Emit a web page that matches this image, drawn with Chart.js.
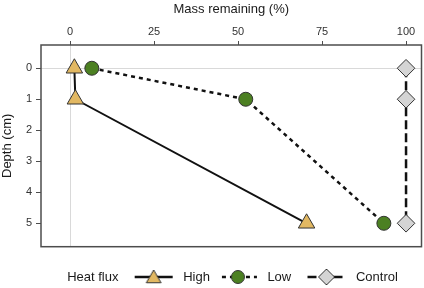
<!DOCTYPE html>
<html>
<head>
<meta charset="utf-8">
<script src="https://cdn.jsdelivr.net/npm/chart.js@4.4.0/dist/chart.umd.min.js"></script>
<style>
  body { margin: 0; background: #fff; }
  #wrap { width: 424px; height: 288px; }
</style>
</head>
<body>
<div id="wrap"><canvas id="massChart" width="424" height="288"></canvas></div>
<script>
// data
const depthCm = [0, 1, 5];
const massHigh = [1.3, 1.6, 70.4];
const massLow = [6.5, 52.3, 93.4];
const massControl = [100, 100, 100];
const massTicks = [0, 25, 50, 75, 100];
const depthTicks = [0, 1, 2, 3, 4, 5];
const seriesNames = ["High", "Low", "Control"];
const legendTitle = "Heat flux";

const FONT = "'Liberation Sans', Arial, Helvetica, sans-serif";
const TEXT = "#1a1a1a";

function points(mass) {
    return depthCm.map((d, i) => ({ x: mass[i], y: d }));
}

/* legend glyphs: line + marker on a small canvas */
function glyph(style, fill, radius, dash, dy) {
    const c = document.createElement("canvas");
    c.width = 42;
    c.height = 20;
    const g = c.getContext("2d");
    if (dash) {
        g.strokeStyle = "#111";
        g.lineWidth = 2.5;
        g.setLineDash(dash.pattern);
        g.lineDashOffset = dash.offset || 0;
        g.beginPath();
        g.moveTo(2, 10);
        g.lineTo(40, 10);
        g.stroke();
        g.setLineDash([]);
    }
    if (style) {
        g.fillStyle = fill;
        g.strokeStyle = "#333";
        g.lineWidth = 1;
        Chart.helpers.drawPoint(g, { pointStyle: style, radius, rotation: 0, borderWidth: 1 }, 21, 10 + (dy || 0));
    }
    return c;
}

const blankGlyph = glyph(null);

const series = [
    { name: seriesNames[0], mass: massHigh, style: "triangle", fill: "#e2b862", radius: 9.5, dash: [], gap: "",
      legend: glyph("triangle", "#e2b862", 8.5, { pattern: [] }, 1.5) },
    { name: seriesNames[1], mass: massLow, style: "circle", fill: "#4c8022", radius: 7, dash: [4, 4], gap: "  ",
      legend: glyph("circle", "#4c8022", 6.5, { pattern: [4, 4], offset: -3 }) },
    { name: seriesNames[2], mass: massControl, style: "rectRot", fill: "#d4d4d4", radius: 8.8, dash: [9, 4], gap: "",
      legend: glyph("rectRot", "#d4d4d4", 8, { pattern: [9, 4] }) }
];

/* frame round the plot area, legend nudged left like the original */
const framePlugin = {
    id: "frame",
    afterLayout(chart) {
        chart.legend.left -= 4.5;
        chart.legend.right -= 4.5;
    },
    afterDraw(chart) {
        const a = chart.chartArea;
        const ctx = chart.ctx;
        ctx.save();
        ctx.strokeStyle = "#4d4d4d";
        ctx.lineWidth = 1.5;
        ctx.strokeRect(a.left, a.top, a.right - a.left, a.bottom - a.top);
        ctx.restore();
    }
};

function noPad(scale) {
    scale.paddingLeft = 0;
    scale.paddingRight = 0;
    scale.paddingTop = 0;
    scale.paddingBottom = 0;
}

const ctx = document.getElementById("massChart").getContext("2d");

new Chart(ctx, {
    type: "line",
    data: {
        datasets: series.map(s => ({
            label: s.name,
            data: points(s.mass),
            borderColor: "#111",
            borderWidth: s.dash.length ? 2.5 : 2,
            borderDash: s.dash,
            pointStyle: s.style,
            pointRadius: s.radius,
            pointHoverRadius: s.radius,
            pointBackgroundColor: s.fill,
            pointBorderColor: "#333",
            pointBorderWidth: 1,
            tension: 0,
            fill: false,
            clip: false
        }))
    },
    options: {
        responsive: false,
        animation: false,
        layout: { autoPadding: false, padding: { left: 0, right: 2.5, top: 0, bottom: -5.5 } },
        plugins: {
            tooltip: { enabled: false },
            legend: {
                position: "bottom",
                labels: {
                    usePointStyle: true,
                    pointStyleWidth: 46,
                    padding: 5,
                    color: TEXT,
                    font: { family: FONT, size: 13 },
                    generateLabels: chart => [
                        { text: legendTitle + "  ", pointStyle: blankGlyph, fontColor: TEXT, hidden: false, lineWidth: 0 },
                        ...series.map((s, i) => ({
                            text: s.name + s.gap,
                            pointStyle: s.legend,
                            fontColor: TEXT,
                            hidden: false,
                            lineWidth: 0,
                            datasetIndex: i
                        }))
                    ]
                }
            }
        },
        scales: {
            x: {
                type: "linear",
                position: "top",
                min: -8.63,
                max: 104.6,
                afterBuildTicks: scale => { scale.ticks = massTicks.map(v => ({ value: v })); },
                afterFit: scale => { scale.height = 45; noPad(scale); },
                title: {
                    display: true,
                    text: "Mass remaining (%)",
                    color: TEXT,
                    font: { family: FONT, size: 13 },
                    padding: { top: 1.5, bottom: 0 }
                },
                ticks: {
                    color: "#333",
                    font: { family: FONT, size: 11 },
                    padding: 2,
                    maxRotation: 0
                },
                grid: {
                    color: c => (c.tick && c.tick.value === 0 ? "#d9d9d9" : "rgba(0,0,0,0)"),
                    lineWidth: 1,
                    tickColor: "#4d4d4d",
                    tickLength: 4
                },
                border: { display: false }
            },
            x2: {
                type: "linear",
                position: "bottom",
                display: true,
                afterFit: scale => { scale.height = 18.8; noPad(scale); },
                ticks: { display: false },
                grid: { display: false, drawTicks: false },
                border: { display: false }
            },
            y: {
                type: "linear",
                reverse: true,
                min: -0.75,
                max: 5.755,
                afterBuildTicks: scale => { scale.ticks = depthTicks.map(v => ({ value: v })); },
                afterFit: scale => { scale.width = 41; noPad(scale); },
                title: {
                    display: true,
                    text: "Depth (cm)",
                    color: TEXT,
                    font: { family: FONT, size: 13 },
                    padding: { top: 0, bottom: 0 }
                },
                ticks: {
                    color: "#333",
                    font: { family: FONT, size: 11 },
                    padding: 4
                },
                grid: {
                    color: c => (c.tick && c.tick.value === 0 ? "#d9d9d9" : "rgba(0,0,0,0)"),
                    lineWidth: 1,
                    tickColor: "#4d4d4d",
                    tickLength: 5
                },
                border: { display: false }
            }
        }
    },
    plugins: [framePlugin]
});
</script>
</body>
</html>
